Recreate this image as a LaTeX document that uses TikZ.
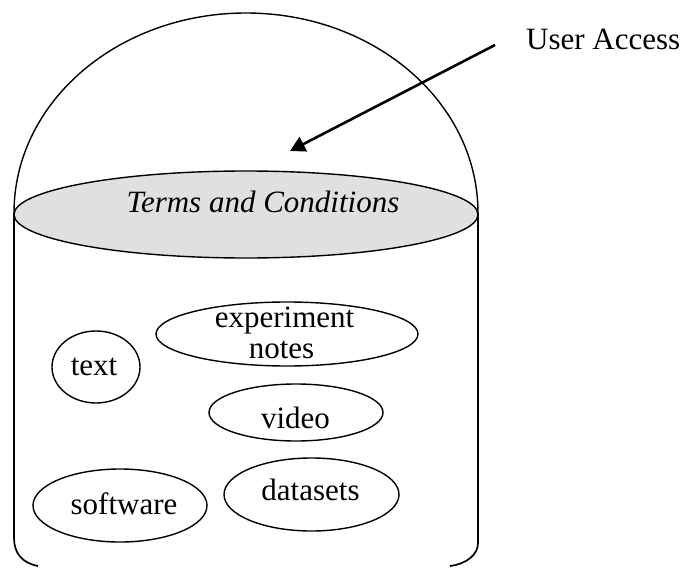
\documentclass[tikz,border=0pt]{standalone}
\usepackage{fontspec}
\setmainfont{Liberation Serif}
\usetikzlibrary{arrows.meta,shapes.geometric}
\tikzset{
  blob/.style={draw,ellipse,line width=1.4pt,inner sep=0pt},
  lbl/.style={font=\fontsize{31}{31}\selectfont,inner sep=0pt,anchor=base},
  edge/.style={line width=1.7pt}
}
\begin{document}
\begin{tikzpicture}[x=1pt,y=-1pt]
\useasboundingbox (0,0) rectangle (682,567);
\coordinate (domeL) at (14,213);
\coordinate (domeT) at (246,13);
\coordinate (domeR) at (478,213);
\draw[line width=1.4pt] (domeL) .. controls (14,102) and (118,13) .. (domeT) .. controls (374,13) and (478,102) .. (domeR);
\draw[edge] (domeL) -- (14,538) .. controls (14,553) and (22,563) .. (38,566);
\draw[edge] (domeR) -- (478,543) .. controls (478,555) and (466,564) .. (450,566);
\node[blob,fill=black!12,minimum width=464pt,minimum height=87pt] (terms) at (246,214.5) {};
\node[lbl] (termstext) at (263,212) {\itshape Terms and Conditions};
\node[blob,minimum width=88pt,minimum height=72pt] (text) at (96,367) {};
\node[lbl] (textlabel) at (94,375) {text};
\node[blob,minimum width=262pt,minimum height=64pt] (notes) at (287,334) {};
\node[lbl] (l1) at (284.5,327) {experiment};
\node[lbl] (l2) at (281.5,358) {notes};
\node[blob,minimum width=174pt,minimum height=57pt] (video) at (296,412.5) {};
\node[lbl] (videolabel) at (295.5,428) {video};
\node[blob,minimum width=174pt,minimum height=73pt] (software) at (120,505.5) {};
\node[lbl] (softwarelabel) at (124,514) {software};
\node[blob,minimum width=175pt,minimum height=73pt] (datasets) at (311.5,494.5) {};
\node[lbl] (datasetslabel) at (310.5,500) {datasets};
\coordinate (from) at (495,45);
\coordinate (to) at (290,151);
\draw[line width=2.6pt,-{Stealth[length=15pt,width=16pt,inset=0pt]}] (from) -- (to);
\node[lbl,anchor=base west] (access) at (526,50) {User Access};
\end{tikzpicture}
\end{document}
